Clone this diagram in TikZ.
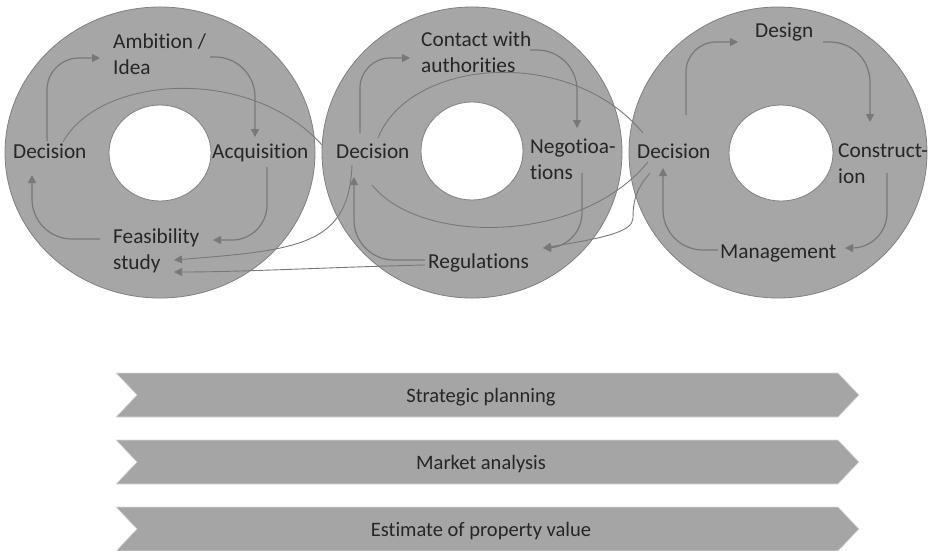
\documentclass[tikz,border=0pt]{standalone}
\usepackage{fontspec}
\setmainfont{Carlito}[Ligatures=NoCommon]
\usetikzlibrary{arrows.meta,calc}

\definecolor{ringgray}{HTML}{A6A6A6}
\definecolor{edgegray}{HTML}{808080}
\definecolor{flowgray}{HTML}{787878}
\definecolor{inkgray}{HTML}{262626}
\definecolor{bandgray}{HTML}{A5A5A5}
\definecolor{bandedge}{HTML}{DADADA}

\begin{document}
\begin{tikzpicture}[x=1pt,y=-1pt,
  ring/.style={fill=ringgray,draw=edgegray,line width=0.8pt},
  hole/.style={fill=white,draw=edgegray,line width=0.8pt},
  lbl/.style={inner sep=0pt,anchor=base west,text=inkgray,
    font=\fontsize{21.3}{26}\selectfont,align=left},
  flow/.style={draw=flowgray,line width=1.2pt,-{Triangle[length=8pt,width=8pt]}},
  link/.style={draw=flowgray,line width=0.9pt},
  linkarr/.style={link,-{Triangle[length=8pt,width=8pt]}},
  band/.style={fill=bandgray,draw=bandedge,line width=0.6pt},
  bandtext/.style={inner sep=0pt,anchor=base,text=inkgray,
    font=\fontsize{20.5}{24}\selectfont}
]
\useasboundingbox (0,0) rectangle (930,550);

% three rings
\draw[ring] (160,152.5) ellipse [x radius=155pt, y radius=145.5pt];
\draw[ring] (472,152.5) ellipse [x radius=150pt, y radius=145.5pt];
\draw[ring] (778,152.5) ellipse [x radius=149pt, y radius=145.5pt];
\draw[hole] (160,153) ellipse [x radius=51pt, y radius=48pt];
\draw[hole] (472,151) ellipse [x radius=51pt, y radius=49pt];
\draw[hole] (781,153) ellipse [x radius=52pt, y radius=48pt];

% process steps (two-line labels are placed by their last baseline)
\node[lbl] (dec1) at (13,158)  {Decision};
\node[lbl] (amb)  at (113,74)  {Ambition /\\Idea};
\node[lbl] (acq)  at (212,158) {Acquisition};
\node[lbl] (fea)  at (113,269) {Feasibility\\study};
\node[lbl] (dec2) at (336,158) {Decision};
\node[lbl] (con)  at (421,72)  {Contact with\\authorities};
\node[lbl] (neg)  at (530,179) {Negotioa-\\tions};
\node[lbl] (reg)  at (428,268) {Regulations};
\node[lbl] (dec3) at (637,158) {Decision};
\node[lbl] (des)  at (755,37)  {Design};
\node[lbl] (cons) at (838,183) {Construct-\\ion};
\node[lbl] (man)  at (720,258) {Management};

% cycle inside the first ring
\draw[flow,rounded corners=32pt] ($(dec1.base west)+(34,-17)$) |- ($(amb.base west)+(-13,-16)$);
\draw[flow,rounded corners=40pt] ($(amb.base west)+(97,-17)$) -| ($(acq.base west)+(43,-21)$);
\draw[flow,rounded corners=35pt] ($(acq.base west)+(55,9)$) |- ($(fea.base west)+(100,-29)$);
\draw[flow,rounded corners=40pt] ($(fea.base west)+(-13,-30)$) -| ($(dec1.base west)+(19,17)$);

% cycle inside the second ring
\draw[flow,rounded corners=30pt] ($(dec2.base west)+(24,-25)$) |- ($(con.base west)+(-11,-14)$);
\draw[flow,rounded corners=40pt] ($(con.base west)+(109,-22)$) -| ($(neg.base west)+(47,-51)$);
\draw[flow,rounded corners=35pt] ($(neg.base west)+(52,-6)$) |- ($(reg.base west)+(115,-20)$);
\draw[flow,rounded corners=40pt] ($(reg.base west)+(-3,-8)$) -| ($(dec2.base west)+(18,19)$);

% cycle inside the third ring
\draw[flow,rounded corners=30pt] ($(dec3.base west)+(49,-43)$) |- ($(des.base west)+(-17,5)$);
\draw[flow,rounded corners=40pt] ($(des.base west)+(68,5)$) -| ($(cons.base west)+(32,-61)$);
\draw[flow,rounded corners=35pt] ($(cons.base west)+(49,-10)$) |- ($(man.base west)+(125,-10)$);
\draw[flow,rounded corners=40pt] ($(man.base west)+(-2,-8)$) -| ($(dec3.base west)+(26,10)$);

% links between the rings
\draw[link] ($(dec1.base west)+(50,-16)$) .. controls +(37,-67) and +(-72,-80) .. ($(dec2.base west)+(-14,-13)$);
\draw[link] ($(dec2.base west)+(42,-20)$) .. controls +(32,-80) and +(-73,-88) .. ($(dec3.base west)+(6,-25)$);
\draw[link] ($(dec2.base west)+(36,27)$) .. controls +(48,60) and +(-68,83) .. ($(dec3.base west)+(11,4)$);
\draw[linkarr] ($(dec2.base west)+(16,7)$) .. controls +(-3,80) and +(126,-10) .. ($(fea.base west)+(61,-9)$);
\draw[linkarr] ($(reg.base west)+(-3,-3)$) .. controls +(-90,2) and +(70,0) .. ($(fea.base west)+(61,3)$);
\draw[linkarr] ($(dec3.base west)+(13,15)$) .. controls +(-15,17) and +(0,-15) .. ($(dec3.base west)+(-4,60)$)
  .. controls +(0,14) and +(60,-10) .. ($(reg.base west)+(115,-20)$);

% overarching activities
\path[band] (116,373) -- (838,373) -- (859,395) -- (838,417) -- (116,417) -- (137,395) -- cycle;
\path[band] (116,440) -- (838,440) -- (859,462) -- (838,484) -- (116,484) -- (137,462) -- cycle;
\path[band] (116,507) -- (838,507) -- (859,529) -- (838,551) -- (116,551) -- (137,529) -- cycle;
\node[bandtext] (plan)   at (481,402) {Strategic planning};
\node[bandtext] (market) at (481,469) {Market analysis};
\node[bandtext] (value)  at (481,536) {Estimate of property value};
\end{tikzpicture}
\end{document}
